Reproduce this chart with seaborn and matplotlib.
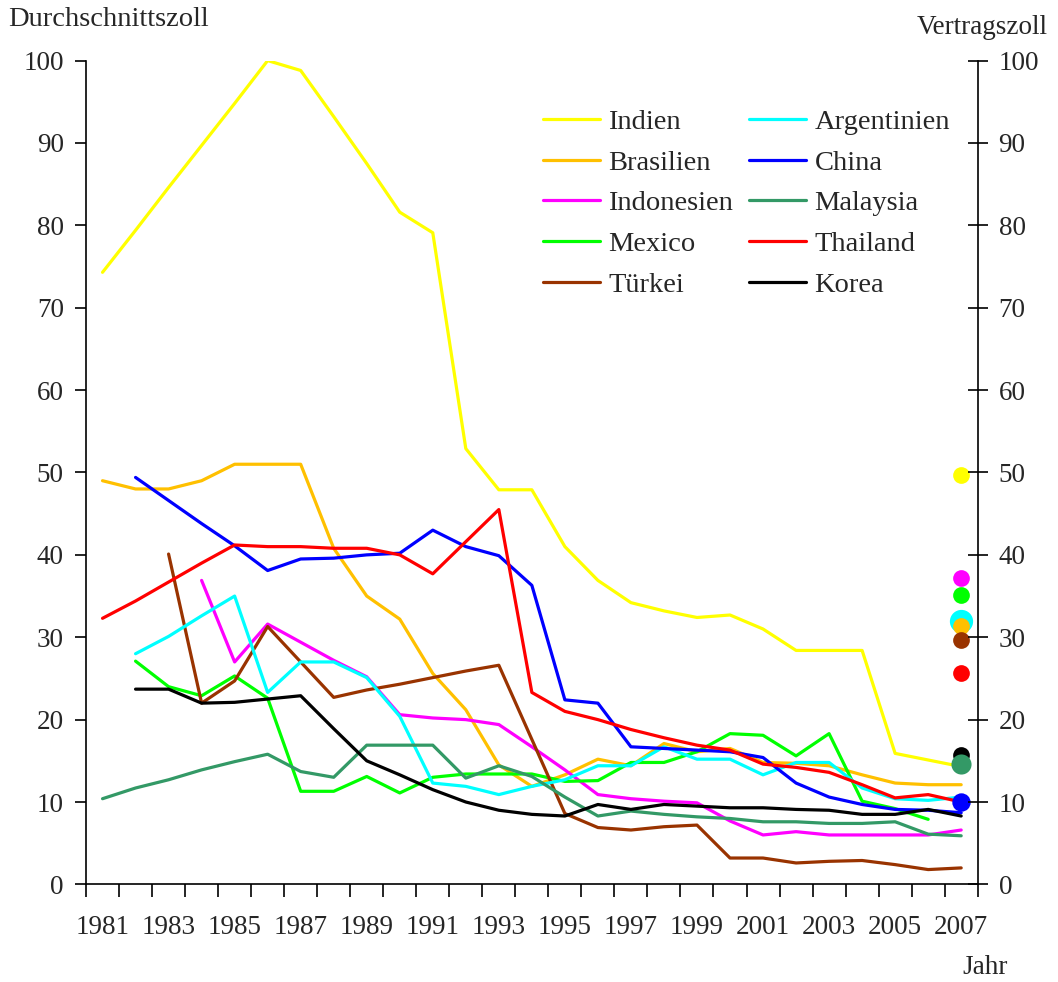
import numpy as np
import pandas as pd
import seaborn as sns
import matplotlib.pyplot as plt
from matplotlib.ticker import MultipleLocator, FixedLocator

# Jahre 1981 - 2007
years = list(range(1981, 2008))
nan = np.nan

indien = [74.3, 79.4, 84.6, 89.7, 94.8, 100.0, 98.8, 93.2, 87.5, 81.6, 79.1, 52.9, 47.9, 47.9,
          41.0, 36.9, 34.2, 33.2, 32.4, 32.7, 31.0, 28.4, 28.4, 28.4, 15.9, 15.1, 14.3]
brasilien = [49.0, 48.0, 48.0, 49.0, 51.0, 51.0, 51.0, 40.8, 35.0, 32.2, 25.6, 21.2, 14.5, 11.9,
             13.3, 15.2, 14.4, 17.1, 16.1, 16.5, 14.8, 14.7, 14.4, 13.3, 12.3, 12.1, 12.1]
indonesien = [nan, nan, nan, 36.9, 27.0, 31.6, 29.4, 27.2, 25.2, 20.6, 20.2, 20.0, 19.4, 16.7,
              13.9, 10.9, 10.4, 10.1, 9.9, 7.7, 6.0, 6.4, 6.0, 6.0, 6.0, 6.0, 6.6]
mexico = [nan, 27.1, 24.0, 22.9, 25.3, 22.6, 11.3, 11.3, 13.1, 11.1, 13.0, 13.4, 13.4, 13.4,
          12.5, 12.6, 14.8, 14.8, 16.1, 18.3, 18.1, 15.6, 18.3, 10.1, 9.2, 7.9, nan]
tuerkei = [nan, nan, 40.1, 22.0, 24.7, 31.3, 27.0, 22.7, 23.6, 24.3, 25.1, 25.9, 26.6, 17.6,
           8.6, 6.9, 6.6, 7.0, 7.2, 3.2, 3.2, 2.6, 2.8, 2.9, 2.4, 1.8, 2.0]
argentinien = [nan, 28.0, 30.1, 32.6, 35.0, 23.3, 27.0, 27.0, 25.1, 20.4, 12.3, 11.9, 10.9, 11.9,
               12.7, 14.4, 14.4, 16.7, 15.2, 15.2, 13.3, 14.8, 14.8, 11.7, 10.4, 10.2, 10.6]
china = [nan, 49.4, 46.6, 43.8, 41.1, 38.1, 39.5, 39.6, 40.0, 40.2, 43.0, 41.0, 39.9, 36.3,
         22.4, 22.0, 16.7, 16.5, 16.3, 16.1, 15.4, 12.3, 10.6, 9.7, 9.1, 9.0, 8.7]
malaysia = [10.4, 11.7, 12.7, 13.9, 14.9, 15.8, 13.7, 13.0, 16.9, 16.9, 16.9, 12.9, 14.4, 13.1,
            10.6, 8.3, 8.9, 8.5, 8.2, 8.0, 7.6, 7.6, 7.4, 7.4, 7.6, 6.1, 5.9]
thailand = [32.3, 34.4, 36.7, 39.0, 41.2, 41.0, 41.0, 40.8, 40.8, 40.0, 37.7, 41.6, 45.5, 23.3,
            21.0, 20.0, 18.8, 17.8, 16.9, 16.3, 14.6, 14.2, 13.6, 12.1, 10.5, 10.9, 10.0]
korea = [nan, 23.7, 23.7, 22.0, 22.1, 22.5, 22.9, 18.9, 15.0, 13.3, 11.5, 10.0, 9.0, 8.5,
         8.3, 9.7, 9.1, 9.7, 9.5, 9.3, 9.3, 9.1, 9.0, 8.5, 8.5, 9.1, 8.3]

# Vertragszoll (gebundene Zölle), als Punkte bei 2007
bound_countries = ["Indien", "Argentinien", "Brasilien", "Türkei", "Indonesien",
                   "Mexico", "Thailand", "Korea", "Malaysia", "China"]
bound_values = [49.7, 32.0, 31.4, 29.7, 37.2, 35.1, 25.7, 15.7, 14.6, 10.0]

series = {
    "Indien": indien, "Brasilien": brasilien, "Indonesien": indonesien,
    "Mexico": mexico, "Türkei": tuerkei, "Argentinien": argentinien,
    "China": china, "Malaysia": malaysia, "Thailand": thailand, "Korea": korea,
}
colors = {
    "Indien": "#FFFF00", "Brasilien": "#FFC000", "Indonesien": "#FF00FF",
    "Mexico": "#00FF00", "Türkei": "#993300", "Argentinien": "#00FFFF",
    "China": "#0000FF", "Malaysia": "#339966", "Thailand": "#FF0000", "Korea": "#000000",
}
dot_size = {"Argentinien": 280, "Malaysia": 210, "China": 175}

rows = []
for name, vals in series.items():
    for y, v in zip(years, vals):
        rows.append({"Jahr": y, "Zoll": v, "Land": name})
df = pd.DataFrame(rows).dropna()

sns.set_theme(style="white")
plt.rcParams['font.family'] = ['Liberation Serif', 'DejaVu Serif']
fs = 19.5

fig = plt.figure(figsize=(10.58, 9.82), dpi=100)
ax = fig.add_axes([0.0813, 0.0994, 0.8428, 0.8389])

sns.lineplot(data=df, x="Jahr", y="Zoll", hue="Land", hue_order=list(series.keys()),
             palette=colors, linewidth=2.3, ax=ax)

for name, val in zip(bound_countries, bound_values):
    ax.scatter([2007], [val], s=dot_size.get(name, 145), color=colors[name],
               zorder=5, linewidths=0, clip_on=False)

ax.set_xlim(1980.5, 2007.5)
ax.set_ylim(0, 100)
ax.set_xlabel("")
ax.set_ylabel("")

ax.xaxis.set_major_locator(FixedLocator(list(range(1981, 2008, 2))))
ax.xaxis.set_minor_locator(MultipleLocator(1, offset=0.5))
ax.tick_params(axis="x", which="major", length=0, pad=22, labelsize=fs)
ax.tick_params(axis="x", which="minor", length=9, width=1.2, direction="out",
               bottom=True, color="black")
ax.yaxis.set_major_locator(MultipleLocator(10))
ax.tick_params(axis="y", which="major", length=8, width=1.2, direction="out",
               left=True, pad=8, labelsize=fs, color="black")

for s in ["top", "right"]:
    ax.spines[s].set_visible(False)
for s in ["left", "bottom"]:
    ax.spines[s].set_color("black")
    ax.spines[s].set_linewidth(1.2)

ax2 = ax.twinx()
ax2.set_ylim(0, 100)
ax2.yaxis.set_major_locator(MultipleLocator(10))
ax2.tick_params(axis="y", which="major", length=14, width=1.2, direction="inout",
                right=True, pad=8, labelsize=fs, color="black")
for s in ["top", "left", "bottom"]:
    ax2.spines[s].set_visible(False)
ax2.spines["right"].set_color("black")
ax2.spines["right"].set_linewidth(1.2)
ax2.grid(False)
ax.grid(False)

ax.legend(ncol=2, frameon=False, fontsize=20.5, loc="upper left",
          bbox_to_anchor=(543 / 1058, 1 - 109 / 982), bbox_transform=fig.transFigure,
          borderpad=0, handlelength=2.0, handletextpad=0.3, columnspacing=0.55,
          labelspacing=0.52, borderaxespad=0)

fig.text(8 / 1058, 1 - 20 / 982, "Durchschnittszoll", fontsize=20.5, ha="left", va="center")
fig.text(1048 / 1058, 1 - 28 / 982, "Vertragszoll", fontsize=fs, ha="right", va="center")
fig.text(985 / 1058, 1 - 968 / 982, "Jahr", fontsize=fs, ha="center", va="center")

fig.savefig("out.png", dpi=100)
